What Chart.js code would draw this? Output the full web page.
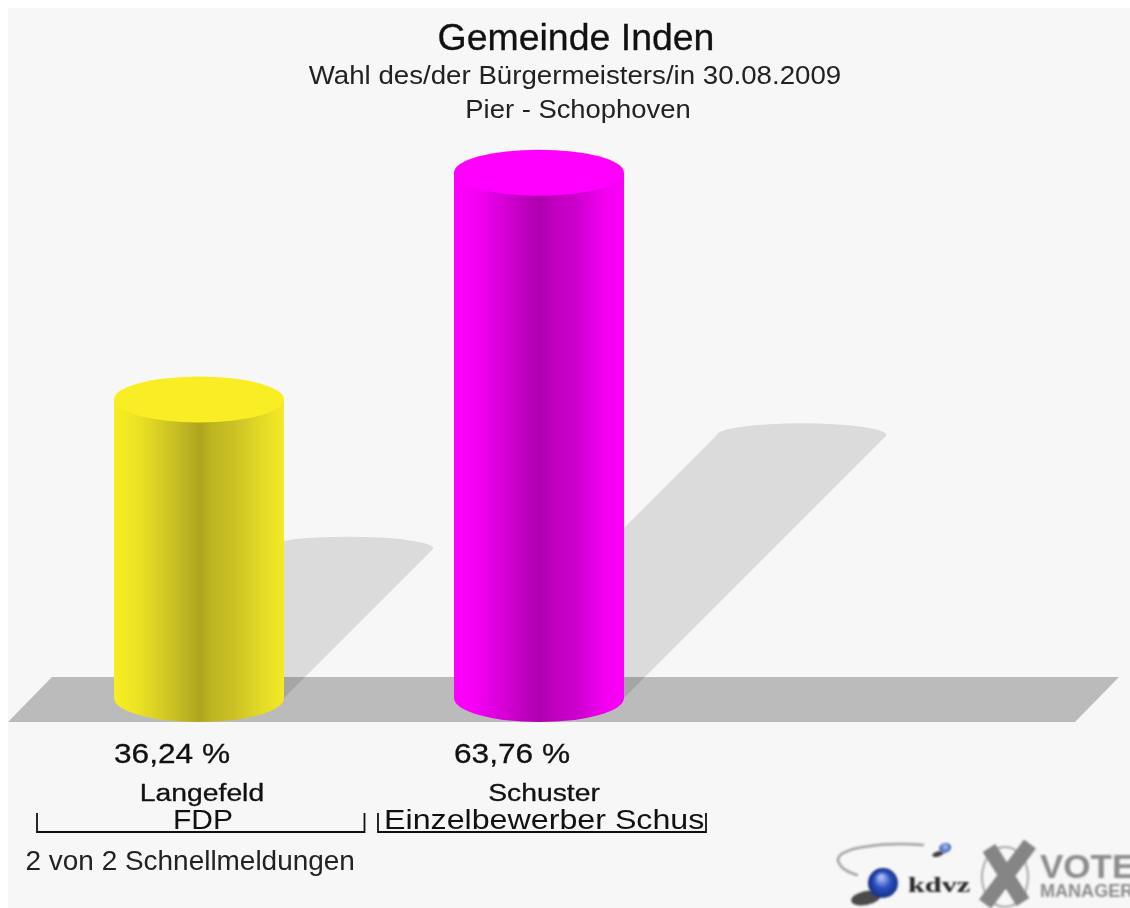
<!DOCTYPE html>
<html><head><meta charset="utf-8">
<script src="https://cdn.jsdelivr.net/npm/chart.js@4"></script>
<style>html,body{margin:0;padding:0;background:#fff;overflow:hidden}canvas{display:block;filter:blur(0.55px)}#w{width:1130px;height:908px;position:relative;overflow:hidden}</style>
</head><body><div id="w"><canvas id="c" width="1130" height="908"></canvas></div>
<script>
const titleLines = ["Gemeinde Inden", "Wahl des/der Bürgermeisters/in 30.08.2009", "Pier - Schophoven"];
const candidates = ["Langefeld", "Schuster"];
const parties = ["FDP", "Einzelbewerber Schuster"];
const shares = [36.24, 63.76];
const shareLabels = ["36,24 %", "63,76 %"];
const footer = "2 von 2 Schnellmeldungen";
const ramps = [
  [[0,"#f8ee22"],[0.14,"#ecE224"],[0.33,"#cdc425"],[0.47,"#b4ab20"],[0.51,"#aea51f"],[0.57,"#bdb421"],[0.7,"#c9c124"],[0.88,"#e4dc27"],[1,"#f4ea24"]],
  [[0,"#ff00ff"],[0.12,"#f600f6"],[0.33,"#cf00cf"],[0.47,"#b400b4"],[0.51,"#ae00ae"],[0.59,"#c000c0"],[0.72,"#cc00cc"],[0.88,"#f000f0"],[1,"#fb00fb"]]
];
const capColors = ["#f9ee26", "#ff00ff"];
const FONT = '"Liberation Sans", Arial, sans-serif';

function grad(ctx, x0, x1, i){
  const g = ctx.createLinearGradient(x0,0,x1,0);
  ramps[i].forEach(s=>g.addColorStop(s[0],s[1]));
  return g;
}
function T(c,str,x,y,font,hs,align,stroke){
  c.save();
  c.font=font; c.textAlign=align||'center'; c.textBaseline='alphabetic';
  c.translate(x,y); c.scale(hs,1);
  c.fillText(str,0,0);
  if(stroke){ c.lineWidth=stroke; c.strokeStyle=c.fillStyle; c.strokeText(str,0,0); }
  c.restore();
}
const backdrop = {
  id:'backdrop',
  beforeDatasetsDraw(chart){
    const c = chart.ctx, y = chart.scales.y, base = y.getPixelForValue(0);
    c.save();
    c.fillStyle = '#f7f7f7'; c.fillRect(8,8,1122,900);
    c.fillStyle = '#bbbbbb';
    c.beginPath(); c.moveTo(8,722); c.lineTo(1075,722); c.lineTo(1119,677); c.lineTo(52,677); c.closePath(); c.fill();
    chart.getDatasetMeta(0).data.forEach((b)=>{
      const l = b.x-b.width/2, r = b.x+b.width/2, s = (base-b.y)/2;
      c.fillStyle = 'rgba(0,0,0,0.115)';
      c.beginPath();
      c.moveTo(l,base); c.lineTo(l+s,base-s);
      c.ellipse(b.x+s,base-s,b.width/2,12,0,Math.PI,2*Math.PI);
      c.lineTo(r,base); c.closePath(); c.fill();
    });
    c.restore();
  },
  afterDatasetsDraw(chart){
    const c = chart.ctx, y = chart.scales.y, base = y.getPixelForValue(0);
    c.save();
    chart.getDatasetMeta(0).data.forEach((b,i)=>{
      const l = b.x-b.width/2, r = b.x+b.width/2;
      c.fillStyle = grad(c,l,r,i);
      c.beginPath(); c.ellipse(b.x,base,b.width/2,24,0,0,Math.PI); c.fill();
      c.fillStyle = capColors[i];
      c.beginPath(); c.ellipse(b.x,b.y,b.width/2,23,0,0,2*Math.PI); c.fill();
    });
    c.restore();
  },
  afterDraw(chart){
    const c = chart.ctx, x = chart.scales.x;
    c.save();
    c.fillStyle='#111';
    T(c,titleLines[0],576,50,'36px '+FONT,1.04,'center',0.3);
    c.fillStyle='#222';
    T(c,titleLines[1],575,84,'26.6px '+FONT,1.04);
    T(c,titleLines[2],578,118,'26.6px '+FONT,1.03);
    c.fillStyle='#111';
    const bars = chart.getDatasetMeta(0).data;
    bars.forEach((b,i)=>T(c,shareLabels[i],b.x-b.width/2,763,'27.5px '+FONT,1.15,'left',0.3));
    const nameDx=[3,5];
    candidates.forEach((n,i)=>T(c,n,x.getPixelForValue(i)+nameDx[i],801,'23px '+FONT,1.23,'center',0.3));
    T(c,parties[0],203,829,'28px '+FONT,1.07);
    c.save(); c.beginPath(); c.rect(378,805,328,30); c.clip();
    T(c,parties[1],384,829,'28px '+FONT,1.15,'left');
    c.restore();
    c.strokeStyle='#111'; c.lineWidth=1.8;
    [[37,364.5],[378,706]].forEach(([a,e])=>{
      c.beginPath(); c.moveTo(a,813); c.lineTo(a,832); c.lineTo(e,832); c.lineTo(e,813); c.stroke();
    });
    c.fillStyle='#222';
    T(c,footer,25.5,870,'27px '+FONT,1.035,'left');
    // logos
    c.filter='blur(0.8px)';
    c.strokeStyle='#a0a0a0'; c.lineWidth=2.5; c.lineCap='round';
    c.beginPath(); c.moveTo(923,845); c.bezierCurveTo(885,842,838,847,838,860); c.quadraticCurveTo(840,870,857,875); c.stroke();
    let rg=c.createRadialGradient(881,877,2,884,884,16); rg.addColorStop(0,'#a8b8f0'); rg.addColorStop(.45,'#2a50c0'); rg.addColorStop(1,'#12287a');
    c.fillStyle='rgba(30,30,30,.8)'; c.beginPath(); c.ellipse(866,898,15,7,-.2,0,7); c.fill();
    c.fillStyle=rg; c.beginPath(); c.arc(883,883,15,0,7); c.fill();
    rg=c.createRadialGradient(946,846,1,944,849,7); rg.addColorStop(0,'#a8b8e8'); rg.addColorStop(1,'#1a3aa0');
    c.fillStyle='rgba(30,30,30,.85)'; c.beginPath(); c.ellipse(938,854,6,2.5,-.3,0,7); c.fill();
    c.fillStyle=rg; c.beginPath(); c.ellipse(945,848,6,5,-.3,0,7); c.fill();
    c.fillStyle='#222'; T(c,'kdvz',908,892,'bold 21px "Liberation Serif", serif',1.44,'left');
    c.strokeStyle='#a8a8a8'; c.lineWidth=2; c.beginPath(); c.ellipse(1005,877,23,30,0,0,7); c.stroke();
    c.strokeStyle='#858585'; c.lineWidth=15; c.lineCap='butt';
    c.beginPath(); c.moveTo(989,848); c.lineTo(1023,902); c.moveTo(1030,844); c.lineTo(985,904); c.stroke();
    c.fillStyle='#8c8c8c';
    T(c,'VOTE',1040,878,'bold 33px '+FONT,1.06,'left');
    T(c,'MANAGER',1040,897,'bold 19px '+FONT,0.95,'left');
    c.filter='none';
    c.restore();
  }
};
new Chart(document.getElementById('c'),{
  type:'bar',
  data:{labels:candidates,datasets:[{data:shares,borderWidth:0,barPercentage:0.5,categoryPercentage:1,
    backgroundColor(ctx){ const a=ctx.chart.chartArea; if(!a) return ramps[ctx.dataIndex][0][1];
      const w=a.width/2*0.5, cx=a.left+a.width/2*(ctx.dataIndex+0.5); return grad(ctx.chart.ctx,cx-w/2,cx+w/2,ctx.dataIndex);} }]},
  options:{responsive:false,animation:false,
    layout:{padding:{left:29,right:421,top:38,bottom:210}},
    plugins:{legend:{display:false},tooltip:{enabled:false},title:{display:false}},
    scales:{x:{display:false,type:'category'},y:{display:false,min:0,max:80.1}}},
  plugins:[backdrop]
});
</script></body></html>
